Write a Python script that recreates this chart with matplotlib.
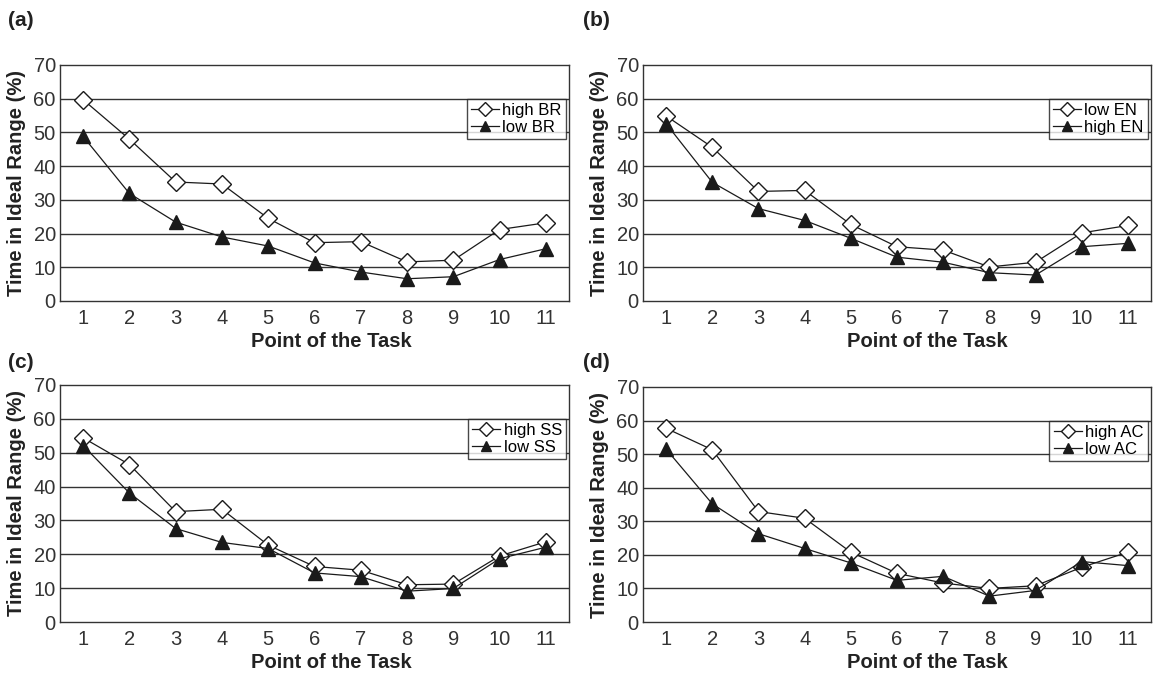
import numpy as np
import matplotlib
matplotlib.use("Agg")
import matplotlib.pyplot as plt

plt.rcParams['font.family'] = ['Liberation Sans', 'DejaVu Sans']

points = np.arange(1, 12)

# (a) BR
high_br = [59.7, 48.0, 35.3, 34.7, 24.5, 17.3, 17.6, 11.6, 12.1, 21.2, 23.2]
low_br = [48.8, 31.9, 23.4, 19.0, 16.3, 11.3, 8.6, 6.6, 7.2, 12.3, 15.5]
# (b) EN
low_en = [54.9, 45.6, 32.5, 32.8, 22.7, 16.1, 15.1, 10.1, 11.5, 20.2, 22.4]
high_en = [52.6, 35.2, 27.4, 23.9, 18.6, 13.0, 11.5, 8.4, 7.7, 16.1, 17.1]
# (c) SS
high_ss = [54.4, 46.5, 32.6, 33.3, 22.7, 16.4, 15.3, 11.0, 11.2, 19.5, 23.7]
low_ss = [52.1, 38.1, 27.6, 23.5, 21.7, 14.5, 13.4, 9.1, 9.9, 18.7, 22.1]
# (d) AC
high_ac = [57.7, 51.3, 32.9, 30.9, 20.8, 14.5, 11.6, 10.0, 10.8, 16.3, 20.8]
low_ac = [51.5, 35.2, 26.3, 21.9, 17.6, 12.4, 13.6, 7.7, 9.4, 18.0, 16.8]

panels = [
    ("(a)", high_br, "high BR", low_br, "low BR"),
    ("(b)", low_en, "low EN", high_en, "high EN"),
    ("(c)", high_ss, "high SS", low_ss, "low SS"),
    ("(d)", high_ac, "high AC", low_ac, "low AC"),
]

W, H = 1153, 674
# axes boxes in pixels: left, top, right, bottom
boxes = [(60, 65, 569, 301), (643, 65, 1151, 301),
         (60, 385, 569, 622), (643, 387, 1151, 622)]
label_pos = [(8, 20), (583, 20), (8, 362), (583, 362)]
xlabel_x = [0.534, 0.559, 0.534, 0.559]

fig = plt.figure(figsize=(W / 100, H / 100), dpi=100)

for (tag, s1, n1, s2, n2), (l, t, r, b), (lx, ly), xlx in zip(panels, boxes, label_pos, xlabel_x):
    ax = fig.add_axes([l / W, 1 - b / H, (r - l) / W, (b - t) / H])
    ax.plot(points, s1, color='#1a1a1a', lw=0.9, marker='D', ms=9,
            mfc='white', mec='#1a1a1a', mew=1.0, label=n1, zorder=3)
    ax.plot(points, s2, color='#1a1a1a', lw=0.9, marker='^', ms=10,
            mfc='#1a1a1a', mec='#1a1a1a', label=n2, zorder=3)
    ax.set_xlim(0.5, 11.5)
    ax.set_ylim(0, 70)
    ax.set_xticks(points)
    ax.set_yticks(range(0, 80, 10))
    for yv in range(10, 70, 10):
        ax.axhline(yv, color='#333333', lw=1.0, zorder=1)
    ax.tick_params(length=0, labelsize=14.5, colors='#333333')
    ax.tick_params(axis='x', pad=6)
    ax.tick_params(axis='y', pad=3)
    for sp in ax.spines.values():
        sp.set_color('#333333')
        sp.set_linewidth(1.0)
    ax.set_xlabel('Point of the Task', fontsize=14.5, fontweight='bold',
                  color='#222222', va='center')
    ax.xaxis.set_label_coords(xlx, -41 / (b - t))
    ax.set_ylabel('Time in Ideal Range (%)', fontsize=14.5, fontweight='bold',
                  color='#222222', va='center')
    ax.yaxis.set_label_coords(-43 / (r - l), 0.5)
    leg = ax.legend(loc='upper right', bbox_to_anchor=(0.994, 0.856),
                    fontsize=12, frameon=True, fancybox=False, markerscale=0.75,
                    handlelength=1.7, handletextpad=0.2, borderpad=0.25,
                    labelspacing=0.1, borderaxespad=0)
    leg.get_frame().set_edgecolor('#1a1a1a')
    leg.get_frame().set_linewidth(1.0)
    leg.set_zorder(5)
    fig.text(lx / W, 1 - ly / H, tag, fontsize=15, fontweight='bold',
             color='#222222', ha='left', va='center')

fig.savefig('out.png', dpi=100)
